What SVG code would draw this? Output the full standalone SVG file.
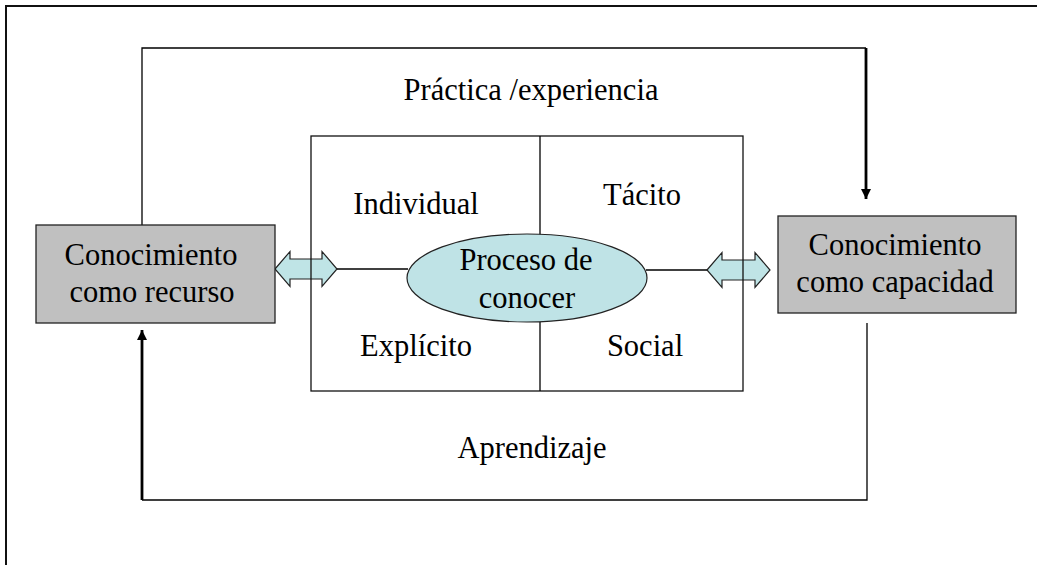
<svg xmlns="http://www.w3.org/2000/svg" width="1037" height="565" viewBox="0 0 1037 565">
<defs>
<style>
.t{font-family:"Liberation Serif","Times New Roman",serif;font-size:30.5px;fill:#000;text-anchor:middle}
.ln{stroke:#000;stroke-width:1.3;fill:none}
.thick{stroke:#000;stroke-width:2.8;fill:none}
.box{fill:#c0c0c0;stroke:#222;stroke-width:1.3}
.dbl{fill:#bfe4e6;stroke:#222;stroke-width:1.2}
</style>
<marker id="ah" viewBox="0 0 10 10" refX="10" refY="5" markerWidth="10" markerHeight="10" markerUnits="userSpaceOnUse" orient="auto">
<path d="M0,0 L10,5 L0,10 Z" fill="#000"/>
</marker>
</defs>
<rect width="1037" height="565" fill="#fff"/>
<rect x="6" y="6" width="1045" height="575" fill="none" stroke="#111" stroke-width="2"/>

<g id="connectors">
<path class="ln" d="M142,225 V48 H866"/>
<line class="thick" x1="866" y1="48" x2="866" y2="199" marker-end="url(#ah)"/>
<path class="ln" d="M867,323 V500 H142"/>
<line class="thick" x1="142" y1="500" x2="142" y2="330" marker-end="url(#ah)"/>
<line class="ln" x1="337" y1="269" x2="408" y2="269"/>
<line class="ln" x1="646" y1="270" x2="707" y2="270"/>
<path class="dbl" d="M275,269 L290,251.5 L290,259 L322,259 L322,251.5 L337,269 L322,286.5 L322,279 L290,279 L290,286.5 Z"/>
<path class="dbl" d="M707,270 L722,252.5 L722,260 L755,260 L755,252.5 L770,270 L755,287.5 L755,280 L722,280 L722,287.5 Z"/>
<text class="t" x="531" y="100">Práctica /experiencia</text>
<text class="t" x="532" y="458">Aprendizaje</text>
</g>

<g id="matrix">
<rect x="311" y="136" width="432" height="255" fill="none" stroke="#111" stroke-width="1.3"/>
<line class="ln" x1="540" y1="136" x2="540" y2="391"/>
<text class="t" x="416" y="214">Individual</text>
<text class="t" x="642" y="205">Tácito</text>
<text class="t" x="416" y="356">Explícito</text>
<text class="t" x="645" y="356">Social</text>
</g>

<g id="proceso">
<ellipse cx="527" cy="278" rx="120" ry="44" fill="#bfe3e6" stroke="#222" stroke-width="1.2"/>
<text class="t" x="526" y="270">Proceso de</text>
<text class="t" x="527" y="308">conocer</text>
</g>

<g id="recurso">
<rect class="box" x="36" y="225" width="239" height="98"/>
<text class="t" x="151" y="265">Conocimiento</text>
<text class="t" x="152" y="302">como recurso</text>
</g>

<g id="capacidad">
<rect class="box" x="778" y="216" width="238" height="97"/>
<text class="t" x="895" y="255">Conocimiento</text>
<text class="t" x="895" y="292">como capacidad</text>
</g>
</svg>
